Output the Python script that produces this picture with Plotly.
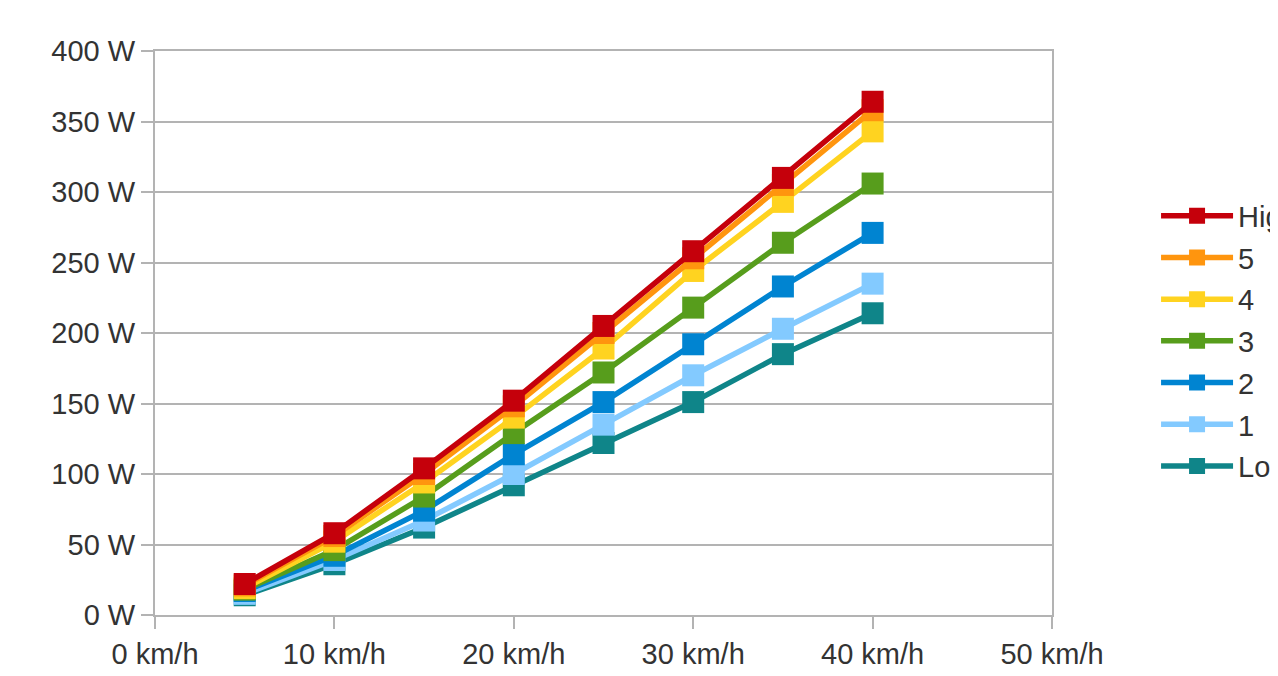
import plotly.graph_objects as go

speeds = [5, 10, 15, 20, 25, 30, 35, 40]
series_names = ["Low", "1", "2", "3", "4", "5", "High"]
low = [14, 36, 62, 92, 122, 151, 185, 214]
lvl1 = [15, 39, 67, 100, 135, 170, 203, 235]
lvl2 = [17, 42, 74, 114, 151, 192, 233, 271]
lvl3 = [18, 46, 84, 129, 172, 218, 264, 306]
lvl4 = [19, 52, 94, 140, 189, 244, 293, 343]
lvl5 = [21, 56, 100, 148, 200, 253, 305, 358]
high = [22, 58, 104, 152, 205, 258, 310, 364]
series_values = [low, lvl1, lvl2, lvl3, lvl4, lvl5, high]
colors = ["#0f8589", "#83caff", "#0084d1", "#579d1c", "#ffd320", "#ff950e", "#c5000b"]
legend_ranks = [7, 6, 5, 4, 3, 2, 1]

x_ticks = [0, 10, 20, 30, 40, 50]
y_ticks = [0, 50, 100, 150, 200, 250, 300, 350, 400]

fig = go.Figure()
for name, vals, col, rank in zip(series_names, series_values, colors, legend_ranks):
    fig.add_trace(go.Scatter(
        x=speeds, y=vals, name=name, mode="lines+markers",
        line=dict(color=col, width=5.5),
        marker=dict(symbol="square", size=22, color=col, line=dict(width=0)),
        legendgroup=name, legendrank=rank,
    ))

font = dict(family="Liberation Sans, Arial, sans-serif", size=29, color="#333333")
fig.update_layout(
    width=1278, height=676,
    margin=dict(l=147, r=234, t=43, b=69, autoexpand=False),
    paper_bgcolor="white", plot_bgcolor="white",
    font=font,
    showlegend=True,
    legend=dict(
        x=1.116, y=0.486, xanchor="left", yanchor="middle",
        traceorder="grouped", tracegroupgap=1,
        itemwidth=72, font=font, bgcolor="rgba(0,0,0,0)",
    ),
    xaxis=dict(
        range=[0, 50], tickvals=x_ticks, ticktext=[f"{v} km/h" for v in x_ticks],
        showgrid=False, zeroline=False, automargin=False,
        showline=True, linecolor="#b3b3b3", linewidth=2, mirror=True,
        ticks="outside", ticklen=12, tickcolor="#b3b3b3", tickwidth=2,
        tickfont=font,
    ),
    yaxis=dict(
        range=[0, 400], tickvals=y_ticks, ticktext=[f"{v} W" for v in y_ticks],
        showgrid=True, gridcolor="#b3b3b3", gridwidth=2, zeroline=False, automargin=False,
        showline=True, linecolor="#b3b3b3", linewidth=2, mirror=True,
        ticks="outside", ticklen=12, tickcolor="#b3b3b3", tickwidth=2,
        tickfont=font,
    ),
)

fig.write_html("out.html")
